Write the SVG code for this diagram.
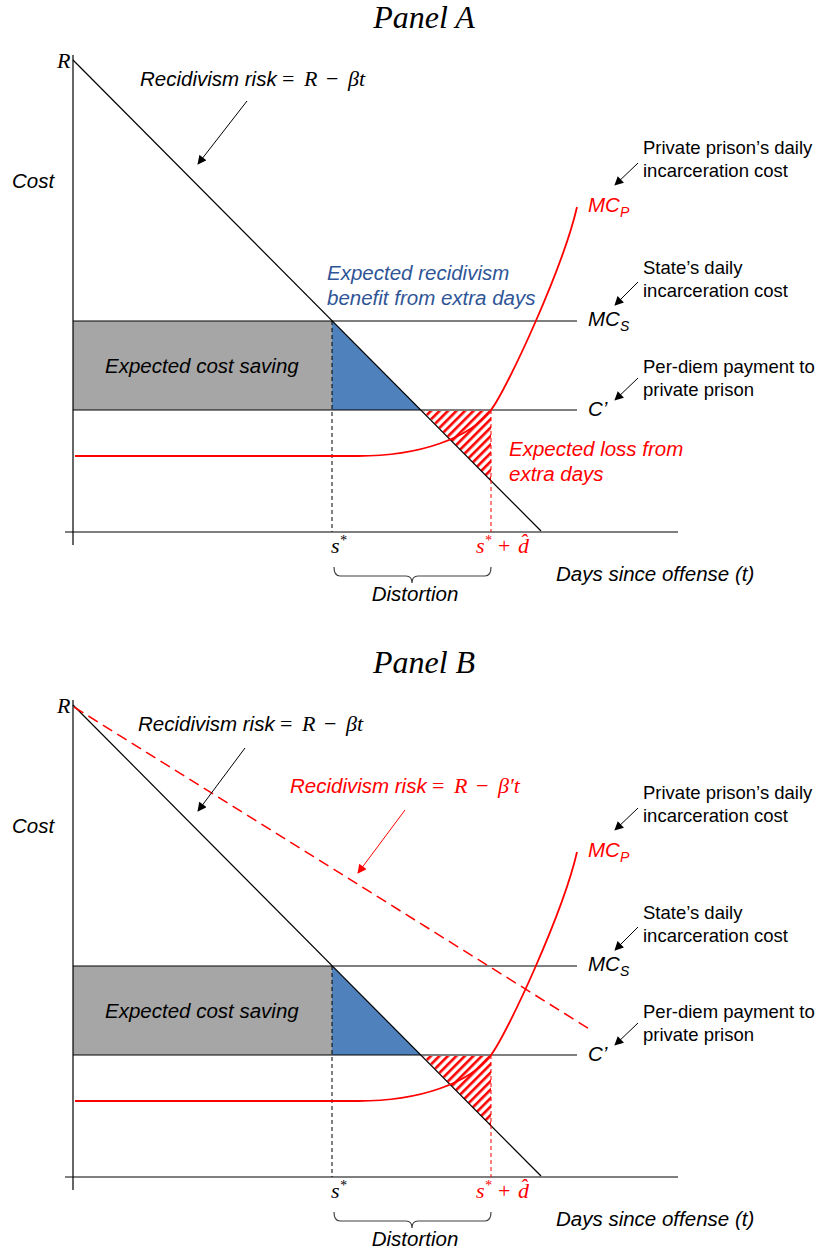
<svg xmlns="http://www.w3.org/2000/svg" width="820" height="1253" viewBox="0 0 820 1253">
<defs>
<style>
.lab{font-family:"Liberation Sans",Arial,sans-serif;font-style:italic;font-size:20.5px;fill:#000}
.note{font-family:"Liberation Sans",Arial,sans-serif;font-size:18.5px;fill:#000}
.m{font-family:"Liberation Serif","Times New Roman",serif;font-style:italic;font-size:22px}
.mu{font-family:"Liberation Serif","Times New Roman",serif;font-style:normal;font-size:22px}
.title{font-family:"Liberation Serif","Times New Roman",serif;font-style:italic;font-size:32px;fill:#000}
.ln{stroke:#000;stroke-width:1.2;fill:none}
.dash{stroke:#000;stroke-width:1;stroke-dasharray:4 3;fill:none}
.rdash{stroke:#ff0000;stroke-width:1;stroke-dasharray:4 3;fill:none}
.curve{stroke:#ff0000;stroke-width:1.8;fill:none}
.arr{stroke:#000;stroke-width:1;fill:none;marker-end:url(#ah)}
.arrr{stroke:#ff0000;stroke-width:1;fill:none;marker-end:url(#ahr)}
.red{fill:#ff0000}
.blue{fill:#2F5597}
.brace{stroke:#404040;stroke-width:1.2;fill:none}
</style>
<marker id="ah" viewBox="0 0 10 10" refX="9" refY="5" markerWidth="10" markerHeight="9" markerUnits="userSpaceOnUse" orient="auto"><path d="M0,0 L10,5 L0,10 z" fill="#000"/></marker>
<marker id="ahr" viewBox="0 0 10 10" refX="9" refY="5" markerWidth="10" markerHeight="9" markerUnits="userSpaceOnUse" orient="auto"><path d="M0,0 L10,5 L0,10 z" fill="#ff0000"/></marker>
<pattern id="hatch" patternUnits="userSpaceOnUse" width="6" height="6" patternTransform="rotate(45)"><rect x="0" y="0" width="2.6" height="6" fill="#ff0000"/></pattern>
</defs>
<rect width="820" height="1253" fill="#fff"/>

<!-- PANEL A -->
<g id="panelA">
  <g id="A-title"><text class="title" x="424" y="28" text-anchor="middle">Panel A</text></g>
  <g id="A-areas">
    <rect id="A-cost-saving" x="73" y="321" width="259" height="89" fill="#a6a6a6"/>
    <polygon id="A-benefit" points="332,321 332,410 421,410" fill="#4f81bd"/>
    <polygon id="A-loss" points="423,411 491,411 491,481" fill="url(#hatch)"/>
  </g>
  <g id="A-lines">
    <line class="ln" x1="73" y1="321" x2="577" y2="321"/>
    <line class="ln" x1="73" y1="410" x2="577" y2="410"/>
    <line class="ln" x1="73" y1="60" x2="541" y2="531"/>
    <line class="ln" x1="73" y1="55" x2="73" y2="545"/>
    <line class="ln" x1="65" y1="532" x2="678" y2="532"/>
    <line class="dash" x1="332" y1="321" x2="332" y2="532"/>
    <line class="rdash" x1="491" y1="410" x2="491" y2="532"/>
    <path class="curve" d="M75,456 L358,456 C420,456 470,438 491,410 C507,389 563,268 577,207"/>
    <path class="brace" d="M334,567 Q334,576 340,576 L406,576 Q412,576 412,583 Q412,576 418,576 L485,576 Q491,576 491,567"/>
  </g>
  <g id="A-connectors">
    <line class="arr" x1="247" y1="101" x2="198" y2="164"/>
    <line class="arr" x1="638" y1="163" x2="615" y2="185"/>
    <line class="arr" x1="638" y1="282" x2="615" y2="305"/>
    <line class="arr" x1="638" y1="378" x2="615" y2="400"/>
  </g>
  <g id="A-labels">
    <text class="m" x="57" y="68">R</text>
    <text class="lab" x="12" y="188">Cost</text>
    <text class="lab" x="140" y="86">Recidivism risk<tspan class="mu" x="282">=</tspan><tspan class="m" x="304">R</tspan><tspan class="mu" x="326">−</tspan><tspan class="m" x="348">βt</tspan></text>
    <text class="lab blue" x="327" y="280">Expected recidivism</text>
    <text class="lab blue" x="327" y="305">benefit from extra days</text>
    <text class="lab" x="105" y="373">Expected cost saving</text>
    <text class="lab red" x="509" y="456">Expected loss from</text>
    <text class="lab red" x="509" y="481">extra days</text>
    <text class="lab red" x="588" y="212">MC<tspan font-size="14" dy="5">P</tspan></text>
    <text class="lab" x="588" y="326">MC<tspan font-size="14" dy="5">S</tspan></text>
    <text class="lab" x="588" y="416">C’</text>
    <text class="note" x="643" y="154">Private prison’s daily</text>
    <text class="note" x="643" y="177">incarceration cost</text>
    <text class="note" x="643" y="274">State’s daily</text>
    <text class="note" x="643" y="297">incarceration cost</text>
    <text class="note" x="643" y="373">Per-diem payment to</text>
    <text class="note" x="643" y="396">private prison</text>
    <text class="m" x="331" y="553">s<tspan font-size="14" dy="-8">*</tspan></text>
    <text class="m red" x="476" y="553">s<tspan font-size="14" dy="-8">*</tspan><tspan class="mu" x="498" dy="8">+</tspan><tspan x="518">d&#770;</tspan></text>
    <text class="lab" x="556" y="581">Days since offense (t)</text>
    <text class="lab" x="415" y="601" text-anchor="middle">Distortion</text>
  </g>
</g>

<!-- PANEL B -->
<g id="panelB" transform="translate(0,645)">
  <g id="B-title"><text class="title" x="424" y="28" text-anchor="middle">Panel B</text></g>
  <g id="B-areas">
    <rect id="B-cost-saving" x="73" y="321" width="259" height="89" fill="#a6a6a6"/>
    <polygon id="B-benefit" points="332,321 332,410 421,410" fill="#4f81bd"/>
    <polygon id="B-loss" points="423,411 491,411 491,481" fill="url(#hatch)"/>
  </g>
  <g id="B-lines">
    <line class="ln" x1="73" y1="321" x2="577" y2="321"/>
    <line class="ln" x1="73" y1="410" x2="577" y2="410"/>
    <line class="ln" x1="73" y1="60" x2="541" y2="531"/>
    <line class="ln" x1="73" y1="55" x2="73" y2="545"/>
    <line class="ln" x1="65" y1="532" x2="678" y2="532"/>
    <line class="dash" x1="332" y1="321" x2="332" y2="532"/>
    <line class="rdash" x1="491" y1="410" x2="491" y2="532"/>
    <line id="B-new-risk" x1="74" y1="62" x2="591" y2="385" stroke="#ff0000" stroke-width="1.5" stroke-dasharray="11 6"/>
    <path class="curve" d="M75,456 L358,456 C420,456 470,438 491,410 C507,389 563,268 577,207"/>
    <path class="brace" d="M334,567 Q334,576 340,576 L406,576 Q412,576 412,583 Q412,576 418,576 L485,576 Q491,576 491,567"/>
  </g>
  <g id="B-connectors">
    <line class="arr" x1="245" y1="103" x2="198" y2="166"/>
    <line class="arrr" x1="405" y1="165" x2="358" y2="228"/>
    <line class="arr" x1="638" y1="163" x2="615" y2="185"/>
    <line class="arr" x1="638" y1="282" x2="615" y2="305"/>
    <line class="arr" x1="638" y1="378" x2="615" y2="400"/>
  </g>
  <g id="B-labels">
    <text class="m" x="57" y="68">R</text>
    <text class="lab" x="12" y="188">Cost</text>
    <text class="lab" x="138" y="86">Recidivism risk<tspan class="mu" x="280">=</tspan><tspan class="m" x="302">R</tspan><tspan class="mu" x="324">−</tspan><tspan class="m" x="346">βt</tspan></text>
    <text class="lab red" x="290" y="148">Recidivism risk<tspan class="mu" x="432">=</tspan><tspan class="m" x="454">R</tspan><tspan class="mu" x="476">−</tspan><tspan class="m" x="498">β′t</tspan></text>
    <text class="lab" x="105" y="373">Expected cost saving</text>
    <text class="lab red" x="588" y="212">MC<tspan font-size="14" dy="5">P</tspan></text>
    <text class="lab" x="588" y="326">MC<tspan font-size="14" dy="5">S</tspan></text>
    <text class="lab" x="588" y="416">C’</text>
    <text class="note" x="643" y="154">Private prison’s daily</text>
    <text class="note" x="643" y="177">incarceration cost</text>
    <text class="note" x="643" y="274">State’s daily</text>
    <text class="note" x="643" y="297">incarceration cost</text>
    <text class="note" x="643" y="373">Per-diem payment to</text>
    <text class="note" x="643" y="396">private prison</text>
    <text class="m" x="331" y="553">s<tspan font-size="14" dy="-8">*</tspan></text>
    <text class="m red" x="476" y="553">s<tspan font-size="14" dy="-8">*</tspan><tspan class="mu" x="498" dy="8">+</tspan><tspan x="518">d&#770;</tspan></text>
    <text class="lab" x="556" y="581">Days since offense (t)</text>
    <text class="lab" x="415" y="601" text-anchor="middle">Distortion</text>
  </g>
</g>
</svg>
